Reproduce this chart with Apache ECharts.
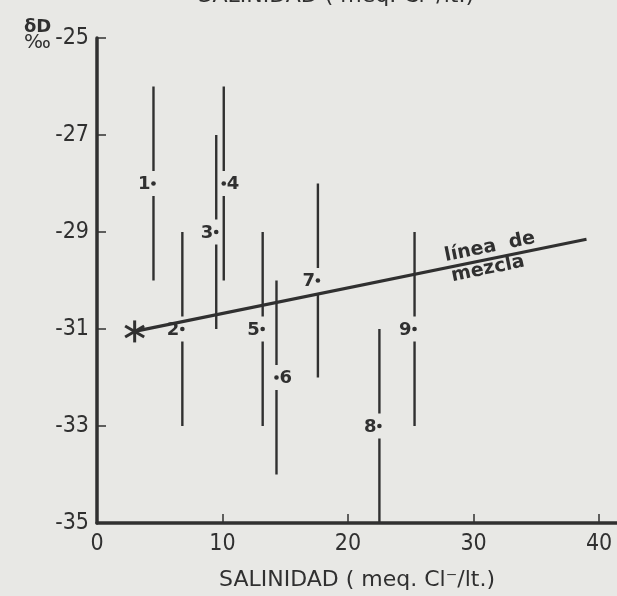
<!DOCTYPE html>
<html><head><meta charset="utf-8">
<script src="https://cdn.jsdelivr.net/npm/echarts@6/dist/echarts.min.js"></script>
<style>html,body{margin:0;padding:0;background:#e8e8e5}#c{width:617px;height:596px}</style>
</head><body><div id="c"></div>
<script>
// ---- data ----
const pointIds    = ['1','2','3','4','5','6','7','8','9'];
const salinity    = [4.5, 6.8, 9.5, 10.1, 13.2, 14.3, 17.6, 22.5, 25.3];
const deltaD      = [-28, -31, -29, -28, -31, -32, -30, -33, -31];
const deltaDUpper = [-26, -29, -27, -26, -29, -30, -28, -31, -29];
const deltaDLower = [-30, -33, -31, -30, -33, -34, -32, -35, -33];
const labelSide   = ['left','left','left','right','left','right','left','left','left'];
const mixingX     = [3, 39];
const mixingY     = [-31.05, -29.15];
const mixingLabels = ['línea  de', 'mezcla'];
const mixingLabelX = [31.3, 31.15];
const mixingLabelY = [-29.31, -29.76];
const xTickLabels = ['0','10','20','30','40'];
const yTickLabels = ['-35','-33','-31','-29','-27','-25'];

const ink = '#303030';
const narrow = '"Liberation Sans Narrow","DejaVu Sans Condensed",sans-serif';

const chart = echarts.init(document.getElementById('c'), null, {renderer:'canvas'});

const errData = salinity.map((x,i)=>[x, deltaD[i], deltaDUpper[i], deltaDLower[i]]);
const mixData = mixingX.map((x,i)=>[x, mixingY[i]]);
const txtData = mixingLabels.map((t,i)=>[mixingLabelX[i], mixingLabelY[i]]);

chart.setOption({
  backgroundColor: '#e8e8e5',
  animation: false,
  grid: {left: 97, right: 0, top: 38, bottom: 73},
  xAxis: {
    type: 'value', min: 0, max: 41.43, interval: 10,
    axisLine: {onZero: false, lineStyle: {color: ink, width: 3.5}},
    axisTick: {inside: true, length: 9, lineStyle: {color: ink, width: 1.5}},
    axisLabel: {showMaxLabel: false, color: ink, fontFamily: narrow, fontSize: 23, margin: 10,
      formatter: v => { const i = xTickLabels.indexOf(String(v)); return i >= 0 ? xTickLabels[i] : ''; }},
    splitLine: {show: false}
  },
  yAxis: {
    type: 'value', min: -35, max: -25, interval: 2,
    axisLine: {show: true, onZero: false, lineStyle: {color: ink, width: 3.5}},
    axisTick: {show: true, inside: true, length: 9, lineStyle: {color: ink, width: 1.5}},
    axisLabel: {color: ink, fontFamily: narrow, fontSize: 23, margin: 8,
      formatter: v => { const i = yTickLabels.indexOf(String(v)); return i >= 0 ? yTickLabels[i] : ''; }},
    splitLine: {show: false}
  },
  graphic: [
    {type:'text', left: 24, top: 18, style:{text:'δD', font:'bold 18px "DejaVu Sans"', fill: ink}},
    {type:'text', left: 24, top: 33, style:{text:'‰', font:'20px "DejaVu Sans"', fill: ink}},
    {type:'text', x: 357, y: 580, style:{text:'SALINIDAD ( meq. Cl⁻/lt.)', font:'22px "DejaVu Sans"', fill: ink, align:'center', verticalAlign:'middle'}},
    {type:'text', x: 336, y: -4, style:{text:'SALINIDAD ( meq. Cl⁻/lt.)', font:'22px "DejaVu Sans"', fill: ink, align:'center', verticalAlign:'middle'}}
  ],
  series: [
    {
      type: 'line', data: mixData, symbol: 'none', silent: true,
      lineStyle: {color: ink, width: 3.2}, z: 3
    },
    {
      type: 'custom', data: [mixData[0]], z: 4,
      renderItem: (params, api) => {
        const p = api.coord([api.value(0), api.value(1)]);
        const r = 11, ch = [];
        [90, 30, -30].forEach(a => {
          const t = a*Math.PI/180;
          ch.push({type:'line', shape:{x1:p[0]-r*Math.cos(t), y1:p[1]-r*Math.sin(t), x2:p[0]+r*Math.cos(t), y2:p[1]+r*Math.sin(t)},
            style:{stroke: ink, lineWidth: 3}});
        });
        return {type:'group', children: ch};
      }
    },
    {
      type: 'custom', data: errData, z: 5,
      renderItem: (params, api) => {
        const i = params.dataIndex;
        const p = api.coord([api.value(0), api.value(1)]);
        const t = api.coord([api.value(0), api.value(2)]);
        const b = api.coord([api.value(0), api.value(3)]);
        const gap = 12.5;
        const left = labelSide[i] === 'left';
        return {type:'group', children:[
          {type:'line', shape:{x1:p[0], y1:t[1], x2:p[0], y2:p[1]-gap}, style:{stroke: ink, lineWidth: 2.4}},
          {type:'line', shape:{x1:p[0], y1:p[1]+gap, x2:p[0], y2:b[1]}, style:{stroke: ink, lineWidth: 2.4}},
          {type:'circle', shape:{cx:p[0], cy:p[1], r:2.3}, style:{fill: ink}},
          {type:'text', x: left ? p[0]-3 : p[0]+3, y: p[1]+1,
            style:{text: pointIds[i], font:'bold 18px "DejaVu Sans"', fill: ink, align: left ? 'right' : 'left', verticalAlign:'middle'}}
        ]};
      }
    },
    {
      type: 'custom', data: txtData, z: 6,
      renderItem: (params, api) => {
        const i = params.dataIndex;
        const p = api.coord([api.value(0), api.value(1)]);
        const p0 = api.coord(mixData[0]), p1 = api.coord(mixData[1]);
        const rot = -Math.atan2(p1[1]-p0[1], p1[0]-p0[0]);
        return {type:'text', x: p[0], y: p[1], rotation: rot,
          style:{text: mixingLabels[i], font:'bold 19px "DejaVu Sans"', fill: ink, align:'center', verticalAlign:'middle'}};
      }
    }
  ]
});
</script></body></html>
